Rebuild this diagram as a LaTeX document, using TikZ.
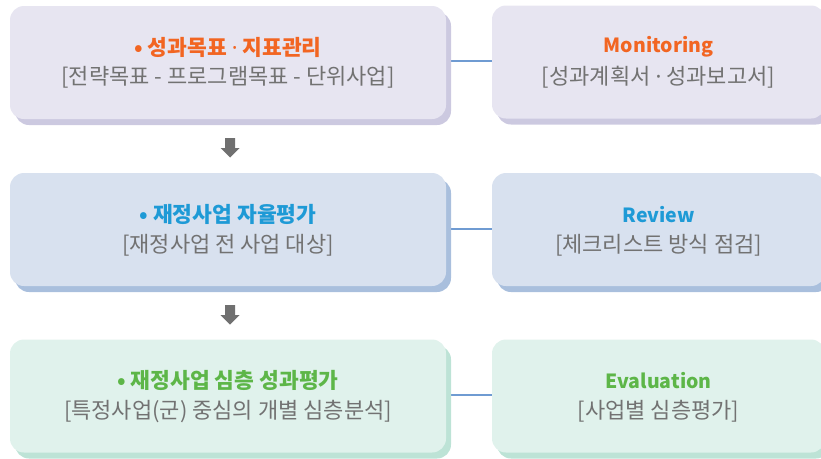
\documentclass[tikz,border=0pt]{standalone}
\usepackage{fontspec}
\newfontfamily\kr{Noto Sans CJK KR}
\newfontfamily\lat{Noto Sans}
\usetikzlibrary{shadows}

\definecolor{lavfill}{HTML}{E7E5F1}
\definecolor{lavshade}{HTML}{CCC9E0}
\definecolor{bluefill}{HTML}{D8E1EF}
\definecolor{blueshade}{HTML}{A9BFDD}
\definecolor{greenfill}{HTML}{E0F2EC}
\definecolor{greenshade}{HTML}{BDE3D6}
\definecolor{orangetxt}{HTML}{F26522}
\definecolor{bluetxt}{HTML}{1E9AD6}
\definecolor{greentxt}{HTML}{5DB648}
\definecolor{subtxt}{HTML}{727272}
\definecolor{linkcol}{HTML}{6F9BD2}
\definecolor{arrowcol}{HTML}{707070}

% narrow middle dot taken from a Latin font
\newcommand{\mdot}{{\lat ·}}

\tikzset{
  card/.style={rounded corners=14pt, inner sep=0pt, draw=none},
  leftcard/.style={card, minimum width=436pt, minimum height=113pt},
  rightcard/.style={card, minimum width=333pt, minimum height=113pt},
  lavcard/.style={fill=lavfill, drop shadow={shadow xshift=5pt, shadow yshift=-6pt, opacity=1, fill=lavshade}},
  bluecard/.style={fill=bluefill, drop shadow={shadow xshift=5pt, shadow yshift=-6pt, opacity=1, fill=blueshade}},
  greencard/.style={fill=greenfill, drop shadow={shadow xshift=5pt, shadow yshift=-6pt, opacity=1, fill=greenshade}},
  headline/.style={inner sep=0pt, font=\kr\bfseries\fontsize{21.5pt}{24pt}\selectfont},
  enheadline/.style={inner sep=0pt, font=\kr\bfseries\fontsize{19.5pt}{22pt}\selectfont},
  subline/.style={inner sep=0pt, text=subtxt, font=\kr\fontsize{22pt}{25pt}\selectfont},
  link/.style={draw=linkcol, line width=1.8pt},
  downarrow/.style={fill=arrowcol}
}

\begin{document}
\begin{tikzpicture}[x=1pt,y=-1pt]
\useasboundingbox (0,0) rectangle (821,458);
\clip (0,0) rectangle (821,458);

% connectors between the two columns (behind the cards)
\coordinate (c1a) at (450,61);  \coordinate (c1b) at (495,61);
\coordinate (c2a) at (450,229); \coordinate (c2b) at (495,229);
\coordinate (c3a) at (450,395); \coordinate (c3b) at (495,395);
\draw[link] (c1a) -- (c1b);
\draw[link, line width=2.6pt] (c2a) -- (c2b);
\draw[link] (c3a) -- (c3b);

% left column
\node[leftcard, lavcard]   (L1) at (228,62.5) {};
\node[leftcard, bluecard]  (L2) at (228,229.5) {};
\node[leftcard, greencard] (L3) at (228,396) {};

% right column
\node[rightcard, lavcard]   (R1) at (658.5,62) {};
\node[rightcard, bluecard]  (R2) at (658.5,229.5) {};
\node[rightcard, greencard] (R3) at (658.5,396) {};

% texts, left column
\node[headline, text=orangetxt] (L1t) at ([yshift=15.5pt]L1.center) {• 성과목표 \mdot{} 지표관리};
\node[subline] (L1s) at ([yshift=-15pt]L1.center) {[전략목표 - 프로그램목표 - 단위사업]};
\node[headline, text=bluetxt] (L2t) at ([yshift=15pt]L2.center) {• 재정사업 자율평가};
\node[subline] (L2s) at ([yshift=-16pt]L2.center) {[재정사업 전 사업 대상]};
\node[headline, text=greentxt] (L3t) at ([yshift=15.5pt]L3.center) {• 재정사업 심층 성과평가};
\node[subline] (L3s) at ([yshift=-15.5pt]L3.center) {[특정사업(군) 중심의 개별 심층분석]};

% texts, right column
\node[enheadline, text=orangetxt] (R1t) at ([yshift=15pt]R1.center) {Monitoring};
\node[subline] (R1s) at ([yshift=-15.5pt]R1.center) {[성과계획서 \mdot{} 성과보고서]};
\node[enheadline, text=bluetxt] (R2t) at ([yshift=15pt]R2.center) {Review};
\node[subline] (R2s) at ([yshift=-16pt]R2.center) {[체크리스트 방식 점검]};
\node[enheadline, text=greentxt] (R3t) at ([yshift=15.5pt]R3.center) {Evaluation};
\node[subline] (R3s) at ([yshift=-15.5pt]R3.center) {[사업별 심층평가]};

% block arrows between the rows
\coordinate (a1) at (230,138);
\coordinate (a2) at (230,305);
\foreach \a in {a1,a2}{
  \fill[downarrow] (\a) ++(-5,0) -- ++(10,0) -- ++(0,10) -- ++(4.5,0)
      -- ++(-9.5,9.5) -- ++(-9.5,-9.5) -- ++(4.5,0) -- cycle;
}
\end{tikzpicture}
\end{document}
